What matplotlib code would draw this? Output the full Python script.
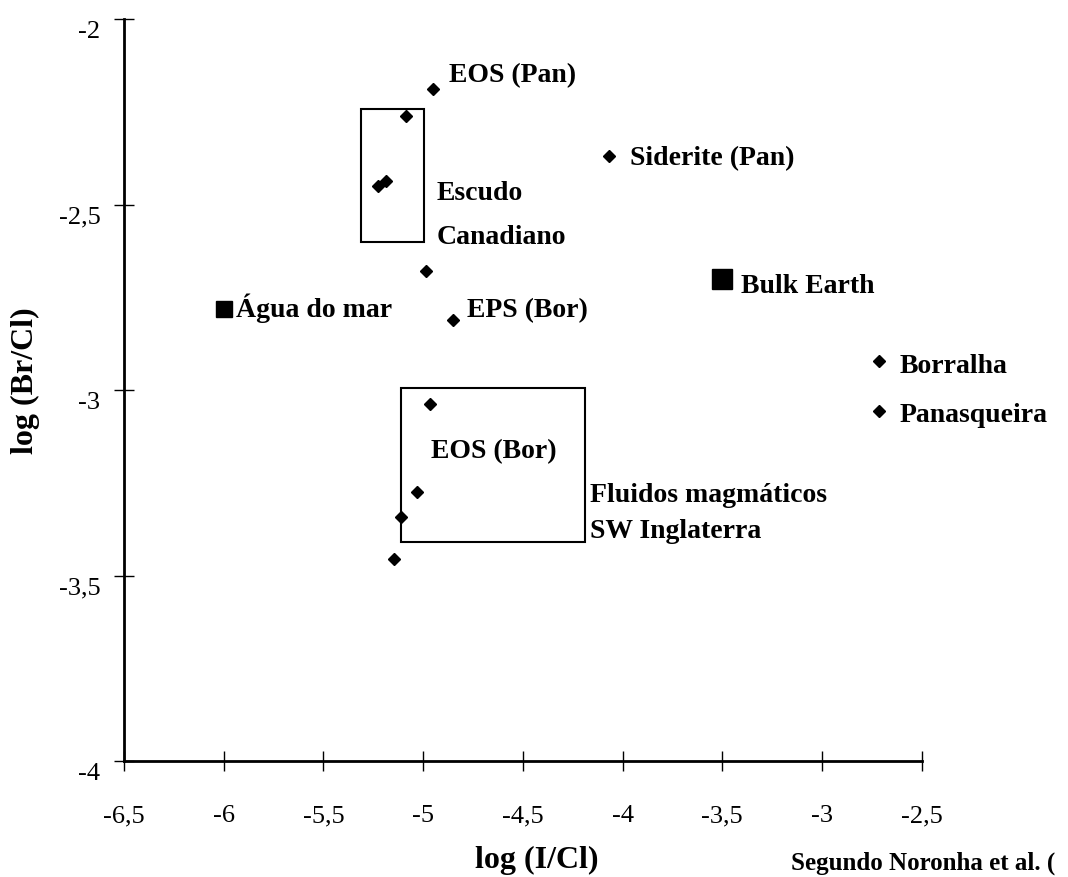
import matplotlib
matplotlib.use("Agg")
import matplotlib.pyplot as plt
import matplotlib.transforms as mtransforms
from matplotlib.patches import Rectangle

plt.rcParams['font.family'] = ['Liberation Serif', 'DejaVu Serif']

# diamond samples
dia_x = [-4.951, -5.086, -5.227, -5.187, -4.067, -4.986, -4.849,
         -2.716, -2.716, -4.963, -5.030, -5.111, -5.145]
dia_y = [-2.189, -2.261, -2.450, -2.435, -2.368, -2.678, -2.811,
         -2.922, -3.056, -3.038, -3.274, -3.342, -3.454]

# reference points (square markers)
agua_x, agua_y = [-6.0], [-2.78]
bulk_x, bulk_y = [-3.5], [-2.70]

# boxes: (x0, x1, y0, y1)
box_escudo = (-5.309, -4.996, -2.600, -2.243)
box_fluidos = (-5.112, -4.186, -3.409, -2.995)

# labels (text, x, baseline y)
labels = [
    ("EOS (Pan)", -4.871, -2.168),
    ("Siderite (Pan)", -3.964, -2.391),
    ("Escudo", -4.931, -2.485),
    ("Canadiano", -4.931, -2.604),
    ("Bulk Earth", -3.407, -2.735),
    ("Água do mar", -5.939, -2.800),
    ("EPS (Bor)", -4.782, -2.800),
    ("Borralha", -2.610, -2.951),
    ("Panasqueira", -2.610, -3.084),
    ("EOS (Bor)", -4.958, -3.181),
    ("Fluidos magmáticos", -4.164, -3.298),
    ("SW Inglaterra", -4.164, -3.396),
]

xticks = [-6.5, -6, -5.5, -5, -4.5, -4, -3.5, -3, -2.5]
yticks = [-4, -3.5, -3, -2.5, -2]

fig = plt.figure(figsize=(10.68, 8.78), dpi=100)
ax = fig.add_axes([0.116, 0.132, 0.747, 0.845])

ax.plot(dia_x, dia_y, 'D', color='black', markersize=6.5, linestyle='none')
ax.plot(agua_x, agua_y, 's', color='black', markersize=11.5)
ax.plot(bulk_x, bulk_y, 's', color='black', markersize=15)

for x0, x1, y0, y1 in [box_escudo, box_fluidos]:
    ax.add_patch(Rectangle((x0, y0), x1 - x0, y1 - y0, fill=False,
                           edgecolor='black', linewidth=1.5))

for txt, x, y in labels:
    ax.text(x, y, txt, fontsize=20, fontweight='bold', va='baseline', ha='left')

ax.set_xlim(-6.5, -2.5)
ax.set_ylim(-4, -2)
ax.set_xticks(xticks)
ax.set_yticks(yticks)
ax.set_xticklabels([f"{v:g}".replace('.', ',') for v in xticks])
ax.set_yticklabels([f"{v:g}".replace('.', ',') for v in yticks])
ax.tick_params(direction='inout', length=14, width=1, labelsize=19)
ax.tick_params(axis='x', pad=24)
ax.tick_params(axis='y', pad=10)
offset = mtransforms.ScaledTranslation(0, -9 / 100, fig.dpi_scale_trans)
for lab in ax.get_yticklabels():
    lab.set_transform(lab.get_transform() + offset)

ax.spines['top'].set_visible(False)
ax.spines['right'].set_visible(False)
ax.spines['left'].set_linewidth(2)
ax.spines['bottom'].set_linewidth(2)

fig.text(0.503, 1 - 868 / 878, "log (I/Cl)", fontsize=23, fontweight='bold',
         ha='center', va='baseline')
fig.text(0.024, 1 - 381 / 878, "log (Br/Cl)", fontsize=23, fontweight='bold',
         ha='center', va='center', rotation=90)
fig.text(0.741, 1 - 870 / 878, "Segundo Noronha et al. (", fontsize=18,
         fontweight='bold', ha='left', va='baseline')

fig.savefig("out.png", dpi=100)
